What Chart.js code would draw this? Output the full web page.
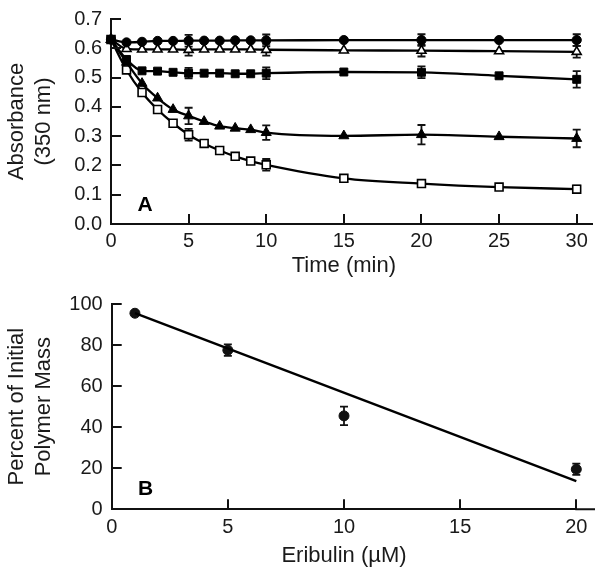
<!DOCTYPE html>
<html>
<head>
<meta charset="utf-8">
<script src="https://cdn.jsdelivr.net/npm/chart.js@4/dist/chart.umd.min.js"></script>
<style>
  html, body { margin: 0; padding: 0; background: #fff; }
  #wrap { position: relative; width: 600px; height: 573px; }
  canvas { position: absolute; left: 0; }
  #cA { top: 0; }
  #cB { top: 285px; }
</style>
</head>
<body>
<div id="wrap">
  <canvas id="cA" width="600" height="285"></canvas>
  <canvas id="cB" width="600" height="288"></canvas>
</div>
<script>
// ---------- Panel A data ----------
const timeMin = [0, 1, 2, 3, 4, 5, 6, 7, 8, 9, 10, 15, 20, 25, 30];
const filledCircle   = [0.630, 0.620, 0.622, 0.625, 0.625, 0.626, 0.626, 0.626, 0.627, 0.627, 0.627, 0.628, 0.628, 0.628, 0.628];
const filledCircleErr= [null, null, null, null, null, 0.020, null, null, null, null, 0.020, null, 0.020, null, 0.020];
const openTriangle   = [0.630, 0.598, 0.596, 0.596, 0.596, 0.595, 0.596, 0.596, 0.596, 0.596, 0.595, 0.593, 0.592, 0.590, 0.588];
const openTriangleErr= [null, null, null, null, null, 0.020, null, null, null, null, 0.020, null, 0.020, null, 0.020];
const filledSquare   = [0.630, 0.562, 0.523, 0.522, 0.518, 0.515, 0.515, 0.515, 0.513, 0.513, 0.515, 0.519, 0.518, 0.506, 0.494];
const filledSquareErr= [null, null, null, null, null, 0.018, null, null, null, null, 0.020, null, 0.020, null, 0.028];
const filledTriangle = [0.630, 0.552, 0.480, 0.430, 0.391, 0.369, 0.350, 0.334, 0.327, 0.322, 0.312, 0.301, 0.305, 0.298, 0.292];
const filledTriangleErr=[null, null, null, null, null, 0.028, null, null, null, null, 0.025, null, 0.033, null, 0.030];
const openSquare     = [0.630, 0.526, 0.449, 0.391, 0.344, 0.305, 0.275, 0.251, 0.231, 0.215, 0.202, 0.156, 0.138, 0.126, 0.119];
const openSquareErr  = [null, null, null, null, null, 0.020, null, null, null, null, 0.020, null, 0.012, null, 0.012];
const ticksTimeX = [0, 5, 10, 15, 20, 25, 30];
const ticksAbsY = [0.0, 0.1, 0.2, 0.3, 0.4, 0.5, 0.6, 0.7];

// ---------- Panel B data ----------
const eribulinUM = [1, 5, 10, 20];
const pctPolymer = [95.5, 77.5, 45.5, 19.5];
const pctPolymerErr = [1.0, 2.8, 4.5, 2.7];
const fitX = [1, 20];
const fitY = [95.5, 13.7];
const ticksEribX = [0, 5, 10, 15, 20];
const ticksPctY = [0, 20, 40, 60, 80, 100];

const FONT = "'Liberation Sans', Arial, Helvetica, sans-serif";
const TXT = '#1a1a1a';

function pts(xs, ys) { return xs.map((x, i) => ({ x: x, y: ys[i] })); }

const errorBars = {
  id: 'errorBars',
  beforeDatasetsDraw(chart) {
    const ctx = chart.ctx, xs = chart.scales.x, ys = chart.scales.y;
    ctx.save();
    ctx.strokeStyle = '#111';
    ctx.lineWidth = 1.8;
    chart.data.datasets.forEach(ds => {
      if (!ds.errors) return;
      ds.data.forEach((p, i) => {
        const e = ds.errors[i];
        if (e == null) return;
        const px = xs.getPixelForValue(p.x);
        const y1 = ys.getPixelForValue(p.y + e), y2 = ys.getPixelForValue(p.y - e);
        ctx.beginPath();
        ctx.moveTo(px, y1); ctx.lineTo(px, y2);
        ctx.moveTo(px - 4, y1); ctx.lineTo(px + 4, y1);
        ctx.moveTo(px - 4, y2); ctx.lineTo(px + 4, y2);
        ctx.stroke();
      });
    });
    ctx.restore();
  }
};

const axisDecor = {
  id: 'axisDecor',
  afterDraw(chart, args, opts) {
    const ctx = chart.ctx, a = chart.chartArea, xs = chart.scales.x, ys = chart.scales.y;
    ctx.save();
    ctx.strokeStyle = '#111';
    ctx.lineWidth = 2;
    ctx.beginPath();
    xs.ticks.forEach(t => {
      if (t.value === xs.min) return;
      const px = Math.round(xs.getPixelForValue(t.value));
      ctx.moveTo(px, a.bottom); ctx.lineTo(px, a.bottom - 10);
    });
    ys.ticks.forEach(t => {
      if (t.value === ys.min) return;
      const py = Math.round(ys.getPixelForValue(t.value));
      ctx.moveTo(a.left, py); ctx.lineTo(a.left + 10, py);
    });
    ctx.moveTo(a.right - 1, a.bottom); ctx.lineTo(a.right + opts.ext, a.bottom);
    ctx.stroke();
    ctx.fillStyle = '#000';
    ctx.font = "bold 21px " + FONT;
    ctx.textAlign = 'center';
    ctx.textBaseline = 'alphabetic';
    ctx.fillText(opts.letter, a.left + opts.lx, a.bottom - opts.ly);
    ctx.restore();
  }
};

function markerDs(label, ys, errs, style, filled, radius) {
  return {
    label: label,
    data: pts(timeMin, ys),
    errors: errs,
    borderColor: '#000',
    borderWidth: 2.3,
    pointStyle: style,
    pointRadius: radius,
    pointHoverRadius: radius,
    pointBackgroundColor: filled ? '#000' : '#fff',
    pointBorderColor: '#000',
    pointBorderWidth: filled ? 1 : 1.6,
    cubicInterpolationMode: 'monotone',
    fill: false,
    clip: false
  };
}

function scaleX(min, max, tickVals, title, height, titlePadBottom, tickPad) {
  return {
    type: 'linear', min: min, max: max,
    afterBuildTicks: s => { s.ticks = tickVals.map(v => ({ value: v })); },
    afterFit: s => { s.height = height; },
    grid: { display: false, drawTicks: false },
    border: { display: true, color: '#111', width: 2 },
    ticks: { color: TXT, padding: tickPad, font: { family: FONT, size: 20, lineHeight: 1 }, maxRotation: 0,
             callback: v => String(v) },
    title: { display: true, text: title, color: TXT, font: { family: FONT, size: 22, lineHeight: 1.25 },
             padding: { top: 0, bottom: titlePadBottom } }
  };
}
function scaleY(min, max, tickVals, title, width, fmt) {
  return {
    type: 'linear', min: min, max: max,
    afterBuildTicks: s => { s.ticks = tickVals.map(v => ({ value: v })); },
    afterFit: s => { s.width = width; },
    grid: { display: false, drawTicks: false },
    border: { display: true, color: '#111', width: 2 },
    ticks: { color: TXT, padding: 9, font: { family: FONT, size: 20, lineHeight: 1 }, callback: fmt },
    title: { display: true, text: title, color: TXT, font: { family: FONT, size: 22, lineHeight: 1.22 },
             padding: { top: 3.5, bottom: 0 } }
  };
}

const common = {
  responsive: false, animation: false, devicePixelRatio: 1,
  plugins: { legend: { display: false }, tooltip: { enabled: false } }
};

new Chart(document.getElementById('cA'), {
  type: 'line',
  data: {
    datasets: [
      markerDs('filled circles', filledCircle, filledCircleErr, 'circle', true, 4.6),
      markerDs('open triangles', openTriangle, openTriangleErr, 'triangle', false, 5.2),
      markerDs('filled squares', filledSquare, filledSquareErr, 'rect', true, 5.6),
      markerDs('filled triangles', filledTriangle, filledTriangleErr, 'triangle', true, 5.8),
      markerDs('open squares', openSquare, openSquareErr, 'rect', false, 5.6)
    ]
  },
  options: Object.assign({}, common, {
    layout: { padding: { left: 0, right: 23.3, top: 12.8, bottom: 0 } },
    scales: {
      x: scaleX(0, 30, ticksTimeX, 'Time (min)', 61, 5, 7),
      y: scaleY(0, 0.7, ticksAbsY, ['Absorbance', '(350 nm)'], 111, v => v.toFixed(1))
    },
    plugins: Object.assign({}, common.plugins, { axisDecor: { ext: 16.3, letter: 'A', lx: 34, ly: 13 } })
  }),
  plugins: [errorBars, axisDecor]
});

new Chart(document.getElementById('cB'), {
  type: 'line',
  data: {
    datasets: [
      {
        label: 'linear fit',
        data: pts(fitX, fitY),
        borderColor: '#000', borderWidth: 2.4,
        pointRadius: 0, fill: false, clip: false
      },
      {
        label: 'percent of initial polymer mass',
        data: pts(eribulinUM, pctPolymer),
        errors: pctPolymerErr,
        showLine: false,
        pointStyle: 'circle', pointRadius: 5, pointHoverRadius: 5,
        pointBackgroundColor: '#111', pointBorderColor: '#111', pointBorderWidth: 1,
        clip: false
      }
    ]
  },
  options: Object.assign({}, common, {
    layout: { padding: { left: 0, right: 23.7, top: 10.7, bottom: 0 } },
    scales: {
      x: scaleX(0, 20, ticksEribX, 'Eribulin (\u00B5M)', 63.7, 3.8, 7.7),
      y: scaleY(0, 100, ticksPctY, ['Percent of Initial', 'Polymer Mass'], 111.7, v => String(v))
    },
    plugins: Object.assign({}, common.plugins, { axisDecor: { ext: 18.7, letter: 'B', lx: 34, ly: 14 } })
  }),
  plugins: [errorBars, axisDecor]
});
</script>
</body>
</html>
